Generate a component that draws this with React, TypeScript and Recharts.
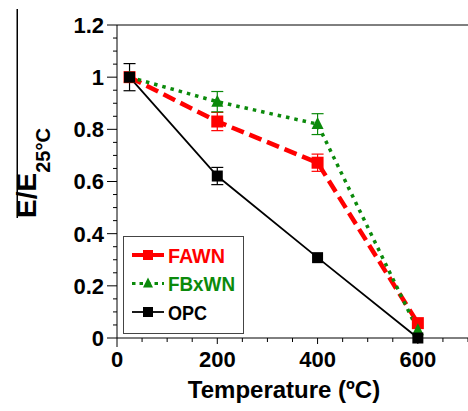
import React from "react"
import {
    LineChart,
    Line,
    XAxis,
    YAxis,
    ErrorBar,
    Legend,
    ReferenceLine,
} from "recharts"

// values
const temperatures = [25, 200, 400, 600]
const fawn = [1.0, 0.83, 0.672, 0.057]
const fawnErr = [0, 0.035, 0.033, 0]
const fbxwn = [1.0, 0.906, 0.82, 0.03]
const fbxwnErr = [0, 0.039, 0.04, 0]
const opc = [1.0, 0.621, 0.308, 0.0]
const opcErr = [0.052, 0.033, 0, 0]

const xTicks = [0, 50, 100, 150, 200, 250, 300, 350, 400, 450, 500, 550, 600, 650, 700]
const xLabels = [0, 200, 400, 600]
const yTicks = [
    0, 0.05, 0.1, 0.15, 0.2, 0.25, 0.3, 0.35, 0.4, 0.45, 0.5, 0.55, 0.6,
    0.65, 0.7, 0.75, 0.8, 0.85, 0.9, 0.95, 1, 1.05, 1.1, 1.15, 1.2,
]
const yLabels = [0, 0.2, 0.4, 0.6, 0.8, 1, 1.2]

const RED = "#ff0000"
const GREEN = "#0b8a0b"
const BLACK = "#000000"

const data = temperatures.map((t, i) => ({
    temp: t,
    fawn: fawn[i],
    fawnErr: fawnErr[i],
    fbxwn: fbxwn[i],
    fbxwnErr: fbxwnErr[i],
    opc: opc[i],
    opcErr: opcErr[i],
}))

const FONT = "'Liberation Sans', Arial, sans-serif"

const isLabel = (v: number, labels: number[]) =>
    labels.some((l) => Math.abs(l - v) < 1e-6)

const YTick = ({ x, y, payload }: any) => {
    const v = payload.value
    const major = isLabel(v, yLabels)
    const len = major ? 10 : 4
    return (
        <g>
            <line x1={x - len} x2={x} y1={y} y2={y} stroke={BLACK} strokeWidth={1} />
            {major && (
                <text
                    x={x - 13}
                    y={y}
                    dy="0.36em"
                    textAnchor="end"
                    fontSize={22}
                    fontWeight="bold"
                    fontFamily={FONT}
                    fill={BLACK}
                >
                    {String(Number(v.toFixed(2)))}
                </text>
            )}
        </g>
    )
}

const XTick = ({ x, y, payload }: any) => {
    const v = payload.value
    const major = isLabel(v, xLabels)
    const len = v === 0 ? 9 : major ? 6 : 4
    return (
        <g>
            <line x1={x} x2={x} y1={y} y2={y + len} stroke={BLACK} strokeWidth={1} />
            {major && (
                <text
                    x={x}
                    y={y + 29}
                    textAnchor="middle"
                    fontSize={22}
                    fontWeight="bold"
                    fontFamily={FONT}
                    fill={BLACK}
                >
                    {v}
                </text>
            )}
        </g>
    )
}

const YTitle = () => (
    <text
        transform="translate(36,218) rotate(-90)"
        fontSize={28}
        fontWeight="bold"
        fontFamily={FONT}
        fill={BLACK}
    >
        <tspan>E/E</tspan>
        <tspan dy={14} fontSize={20}>25°C</tspan>
    </text>
)

const XTitle = () => (
    <g>
        {/* stray frame line left of the y title in the original figure */}
        <rect x={16.5} y={9} width={1.5} height={209} fill={BLACK} />
        <text
            x={284}
            y={398}
            textAnchor="middle"
            fontSize={24}
            fontWeight="bold"
            fontFamily={FONT}
            fill={BLACK}
        >
            Temperature (ºC)
        </text>
    </g>
)

const square = (color: string, size: number) => (props: any) => {
    const { cx, cy, index } = props
    return (
        <rect
            key={`sq-${color}-${index}`}
            x={cx - size / 2}
            y={cy - size / 2}
            width={size}
            height={size}
            fill={color}
        />
    )
}

const triangle = (color: string) => (props: any) => {
    const { cx, cy, index } = props
    return (
        <polygon
            key={`tri-${index}`}
            points={`${cx},${cy - 7} ${cx - 6},${cy + 5} ${cx + 6},${cy + 5}`}
            fill={color}
        />
    )
}

const legendRows = [
    { name: "FAWN", color: RED, dash: "", width: 4, marker: "square", textWidth: 57 },
    { name: "FBxWN", color: GREEN, dash: "3.5 4", width: 3, marker: "triangle", textWidth: 67 },
    { name: "OPC", color: BLACK, dash: "", width: 1.8, marker: "square", textWidth: 39 },
]

const LegendBox = () => (
    <svg width={121} height={98} style={{ display: "block", overflow: "visible" }}>
        <rect x={0.5} y={0.5} width={120} height={97} fill="#fff" stroke="#444" strokeWidth={1} />
        {legendRows.map((r, i) => {
            const cy = 19 + i * 28.5
            return (
                <g key={r.name}>
                    <line
                        x1={9}
                        x2={41}
                        y1={cy}
                        y2={cy}
                        stroke={r.color}
                        strokeWidth={r.width}
                        strokeDasharray={r.dash || undefined}
                    />
                    {r.marker === "square" ? (
                        <rect x={25 - 5} y={cy - 5} width={10} height={10} fill={r.color} />
                    ) : (
                        <polygon
                            points={`25,${cy - 6} 20,${cy + 4} 30,${cy + 4}`}
                            fill={r.color}
                        />
                    )}
                    <text
                        x={45}
                        y={cy}
                        dy="0.36em"
                        fontSize={21}
                        fontWeight="bold"
                        fontFamily={FONT}
                        fill={r.color}
                        textLength={r.textWidth}
                        lengthAdjust="spacingAndGlyphs"
                    >
                        {r.name}
                    </text>
                </g>
            )
        })}
    </svg>
)

export default function App() {
    return (
        <div style={{ position: "absolute", left: 0, top: 0, background: "#fff" }}>
            <LineChart
                width={468}
                height={411}
                data={data}
                margin={{ top: 25, right: 0, left: 57, bottom: 13 }}
            >
                <XAxis
                    dataKey="temp"
                    type="number"
                    domain={[0, 700]}
                    ticks={xTicks}
                    interval={0}
                    tickSize={0}
                    tickMargin={0}
                    tick={<XTick />}
                    height={60}
                    stroke={BLACK}
                    label={<XTitle />}
                />
                <YAxis
                    type="number"
                    domain={[0, 1.2]}
                    ticks={yTicks}
                    interval={0}
                    tickSize={0}
                    tickMargin={0}
                    tick={<YTick />}
                    width={60}
                    stroke={BLACK}
                    label={<YTitle />}
                />
                <ReferenceLine y={1.2} stroke={BLACK} strokeWidth={1} />
                <Legend
                    layout="horizontal"
                    verticalAlign="middle"
                    align="center"
                    content={<LegendBox />}
                    wrapperStyle={{ position: "absolute", left: 123, top: 236, width: 121, height: 98 }}
                />
                <Line
                    dataKey="fawn"
                    name="FAWN"
                    stroke={RED}
                    strokeWidth={4.5}
                    strokeDasharray="13 6"
                    dot={square(RED, 12)}
                    activeDot={false}
                    isAnimationActive={false}
                >
                    <ErrorBar dataKey="fawnErr" direction="y" width={6} stroke={RED} strokeWidth={1.2} />
                </Line>
                <Line
                    dataKey="fbxwn"
                    name="FBxWN"
                    stroke={GREEN}
                    strokeWidth={3.5}
                    strokeDasharray="3.5 5"
                    dot={triangle(GREEN)}
                    activeDot={false}
                    isAnimationActive={false}
                >
                    <ErrorBar dataKey="fbxwnErr" direction="y" width={6} stroke={GREEN} strokeWidth={1.2} />
                </Line>
                <Line
                    dataKey="opc"
                    name="OPC"
                    stroke={BLACK}
                    strokeWidth={1.8}
                    dot={square(BLACK, 11)}
                    activeDot={false}
                    isAnimationActive={false}
                >
                    <ErrorBar dataKey="opcErr" direction="y" width={6} stroke={BLACK} strokeWidth={1.2} />
                </Line>
            </LineChart>
        </div>
    )
}
